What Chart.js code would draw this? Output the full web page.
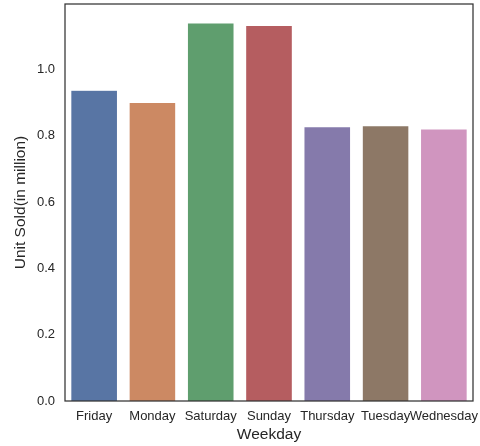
<!DOCTYPE html>
<html>
<head>
<meta charset="utf-8">
<script src="https://cdn.jsdelivr.net/npm/chart.js@4/dist/chart.umd.min.js"></script>
<style>
  html, body { margin: 0; padding: 0; background: #fff; }
  #wrap { width: 480px; height: 446px; }
</style>
</head>
<body>
<div id="wrap"><canvas id="chart" width="480" height="446"></canvas></div>
<script>
// values
const weekdays = ['Friday', 'Monday', 'Saturday', 'Sunday', 'Thursday', 'Tuesday', 'Wednesday'];
const unitsSold = [0.937, 0.900, 1.140, 1.132, 0.827, 0.830, 0.820];
const barColors = ['#5875a4', '#cc8963', '#5f9e6e', '#b55d60', '#857aab', '#8d7866', '#d095bf'];
const yTicks = [0.0, 0.2, 0.4, 0.6, 0.8, 1.0];

const inkColor = '#262626';
const fontFamily = 'Liberation Sans, Arial, sans-serif';

// seaborn style frame on all four sides
const frame = {
    id: 'frame',
    afterDraw(chart) {
        const a = chart.chartArea;
        const ctx = chart.ctx;
        ctx.save();
        ctx.strokeStyle = '#333333';
        ctx.lineWidth = 1.25;
        ctx.strokeRect(a.left, a.top, a.right - a.left, a.bottom - a.top);
        ctx.restore();
    }
};

// no extra room for the edge labels, like matplotlib
function noEdgePadding(scale) {
    scale.paddingTop = 0;
    scale.paddingBottom = 0;
    scale.paddingLeft = 0;
    scale.paddingRight = 0;
}

const config = {
    type: 'bar',
    data: {
        labels: weekdays,
        datasets: [{
            data: unitsSold,
            backgroundColor: barColors,
            borderColor: '#ffffff',
            borderWidth: 0.5,
            categoryPercentage: 1.0,
            barPercentage: 0.8
        }]
    },
    options: {
        responsive: false,
        animation: false,
        layout: { padding: { top: 4, right: 7, left: 0, bottom: 0 } },
        plugins: { legend: { display: false }, tooltip: { enabled: false } },
        scales: {
            x: {
                grid: { display: false, drawTicks: false },
                border: { display: false },
                ticks: {
                    autoSkip: false, maxRotation: 0, minRotation: 0, padding: 8,
                    color: inkColor,
                    font: { family: fontFamily, size: 13 }
                },
                title: {
                    display: true, text: 'Weekday', color: inkColor,
                    padding: { top: 0, bottom: 2 },
                    font: { family: fontFamily, size: 15.5 }
                },
                afterFit: function (scale) {
                    noEdgePadding(scale);
                    scale.height = 45;
                }
            },
            y: {
                min: 0,
                max: 1.197,
                grid: { display: false, drawTicks: false },
                border: { display: false },
                afterBuildTicks: function (scale) {
                    scale.ticks = yTicks.map(v => ({ value: v }));
                },
                ticks: {
                    padding: 10,
                    color: inkColor,
                    font: { family: fontFamily, size: 13 },
                    callback: v => Number(v).toFixed(1)
                },
                title: {
                    display: true, text: 'Unit Sold(in million)', color: inkColor,
                    padding: { top: 11, bottom: 0 },
                    font: { family: fontFamily, size: 15.5 }
                },
                afterFit: function (scale) {
                    noEdgePadding(scale);
                    scale.width = 65;
                }
            }
        }
    },
    plugins: [frame]
};

new Chart(document.getElementById('chart'), config);
</script>
</body>
</html>
